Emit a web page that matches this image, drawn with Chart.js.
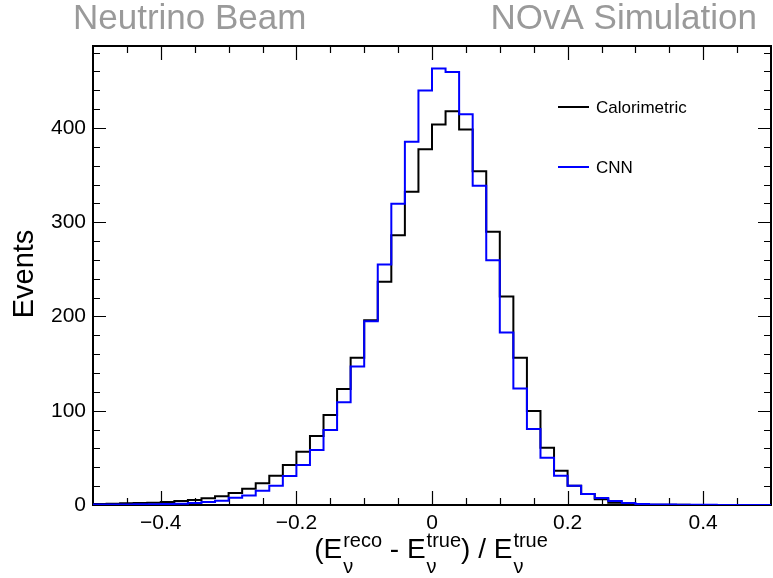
<!DOCTYPE html>
<html><head><meta charset="utf-8">
<script src="https://cdn.jsdelivr.net/npm/chart.js@4/dist/chart.umd.min.js"></script>
<style>html,body{margin:0;padding:0;background:#fff}#wrap{width:773px;height:578px}</style>
</head><body><div id="wrap"><canvas id="c" width="773" height="578"></canvas></div>
<script>
// Histogram binning: 50 bins of width 0.02 from -0.5 to 0.5
const binLow = -0.5;
const binWidth = 0.02;
const seriesNames = ['Calorimetric', 'CNN'];
const seriesColors = ['#000000', '#0000ff'];
const calorimetric = [1.1,1.4,1.8,2.1,2.5,3.2,4.2,5.3,7.1,9.2,12.7,17.3,23.0,31.1,42.4,56.5,73.2,95.4,123.0,156.2,
  196.0,236.8,286.3,332.3,377.5,403.7,417.8,398.4,354.2,289.8,221.3,156.2,99.7,60.8,36.4,20.5,11.7,6.0,2.5,1.0,
  0.5,0.3,0.2,0.2,0.1,0.1,0.1,0.1,0.1,0.1];
const cnn = [0.4,0.5,0.6,0.7,0.8,1.0,1.4,2.1,3.2,4.6,7.8,10.2,15.2,20.5,30.7,42.4,58.3,79.5,108.9,147.0,
  195.0,255.2,319.5,385.3,439.8,463.0,459.5,414.6,338.6,259.8,183.1,123.7,80.6,50.2,31.1,20.5,11.7,7.4,4.2,2.1,
  1.0,0.6,0.4,0.3,0.2,0.2,0.1,0.1,0.1,0.1];
const xTickValues = [-0.4, -0.2, 0, 0.2, 0.4];
const yTickValues = [0, 100, 200, 300, 400];
const xRange = [-0.5, 0.5];
const yRange = [0, 487];
const leftText = 'Neutrino Beam';
const rightText = 'NOvA Simulation';
const yTitle = 'Events';

function histPoints(vals) {
  const pts = vals.map((v, i) => ({x: binLow + i * binWidth, y: v}));
  pts.push({x: binLow + vals.length * binWidth, y: vals[vals.length - 1]});
  return pts;
}
function fmt(v) {
  const s = Math.abs(v) < 1e-9 ? '0' : String(Math.abs(v));
  return v < -1e-9 ? '\u2212' + s : s;
}

const FONT = '"Liberation Sans", Arial, Helvetica, sans-serif';

const frame = {
  id: 'frame',
  beforeDatasetsDraw(chart) {
    const ctx = chart.ctx;
    const a = chart.chartArea;
    const xs = chart.scales.x, ys = chart.scales.y;
    ctx.save();
    ctx.strokeStyle = '#000';
    ctx.lineWidth = 2;
    ctx.strokeRect(a.left, a.top, a.right - a.left, a.bottom - a.top);
    ctx.lineWidth = 1.2;
    ctx.beginPath();
    for (let i = 0; i <= 20; i++) {
      const v = xRange[0] + i * 0.05;
      const major = xTickValues.some(t => Math.abs(t - v) < 1e-6);
      const len = major ? 14 : 7;
      const px = Math.round(xs.getPixelForValue(v)) + 0.5;
      if (px <= a.left + 1 || px >= a.right - 1) continue;
      ctx.moveTo(px, a.bottom); ctx.lineTo(px, a.bottom - len);
      ctx.moveTo(px, a.top); ctx.lineTo(px, a.top + len);
    }
    for (let v = 0; v <= yRange[1]; v += 20) {
      const major = v % 100 === 0;
      const len = major ? 13 : 7;
      const py = Math.round(ys.getPixelForValue(v)) + 0.5;
      if (py >= a.bottom - 1 || py <= a.top + 1) continue;
      ctx.moveTo(a.left, py); ctx.lineTo(a.left + len, py);
      ctx.moveTo(a.right, py); ctx.lineTo(a.right - len, py);
    }
    ctx.stroke();
    ctx.restore();
  }
};

const decor = {
  id: 'decor',
  afterDraw(chart) {
    const ctx = chart.ctx;
    ctx.save();
    // legend
    const legY = [107, 167];
    ctx.font = '17px ' + FONT;
    ctx.textBaseline = 'middle';
    ctx.textAlign = 'left';
    chart.data.datasets.forEach((ds, i) => {
      ctx.strokeStyle = ds.borderColor;
      ctx.lineWidth = 2;
      ctx.beginPath();
      ctx.moveTo(558, legY[i]); ctx.lineTo(589, legY[i]);
      ctx.stroke();
      ctx.fillStyle = '#000';
      ctx.fillText(ds.label, 596, legY[i] + 1);
    });

    // header texts
    ctx.fillStyle = '#9a9a9a';
    ctx.font = '35px ' + FONT;
    ctx.textBaseline = 'alphabetic';
    ctx.textAlign = 'left';
    ctx.fillText(leftText, 73, 29);
    ctx.textAlign = 'right';
    ctx.fillText(rightText, 757, 29);

    // y title
    ctx.fillStyle = '#000';
    ctx.save();
    ctx.translate(33, 274);
    ctx.rotate(-Math.PI / 2);
    ctx.textAlign = 'center';
    ctx.font = '29px ' + FONT;
    ctx.fillText(yTitle, 0, 0);
    ctx.restore();

    // x title: (E_nu^reco - E_nu^true) / E_nu^true
    const mainF = '28px ' + FONT, smallF = '20px ' + FONT;
    const segs = [
      {t: '(E', f: mainF},
      {sup: 'reco', sub: '\u03bd'},
      {t: ' - E', f: mainF},
      {sup: 'true', sub: '\u03bd'},
      {t: ') / E', f: mainF},
      {sup: 'true', sub: '\u03bd'}
    ];
    const widths = segs.map(s => {
      if (s.t) { ctx.font = s.f; return ctx.measureText(s.t).width; }
      ctx.font = smallF;
      return Math.max(ctx.measureText(s.sup).width, ctx.measureText(s.sub).width) + 1;
    });
    const total = widths.reduce((p, c) => p + c, 0);
    let x = 431 - total / 2;
    const base = 558;
    ctx.textAlign = 'left';
    segs.forEach((s, i) => {
      if (s.t) { ctx.font = s.f; ctx.fillText(s.t, x, base); }
      else {
        ctx.font = smallF;
        ctx.fillText(s.sup, x + 1, base - 11);
        ctx.fillText(s.sub, x + 1, base + 15);
      }
      x += widths[i];
    });
    ctx.restore();
  }
};

new Chart(document.getElementById('c'), {
  type: 'line',
  data: {
    datasets: [
      {label: seriesNames[0], data: histPoints(calorimetric), borderColor: seriesColors[0], borderWidth: 2,
       stepped: 'before', pointRadius: 0, fill: false, order: 2},
      {label: seriesNames[1], data: histPoints(cnn), borderColor: seriesColors[1], borderWidth: 2,
       stepped: 'before', pointRadius: 0, fill: false, order: 1}
    ]
  },
  options: {
    responsive: false,
    animation: false,
    devicePixelRatio: 1,
    layout: {padding: {top: 46, right: 2, left: 0, bottom: 0}},
    plugins: {legend: {display: false}, tooltip: {enabled: false}},
    scales: {
      x: {
        type: 'linear', min: xRange[0], max: xRange[1],
        grid: {display: false, drawTicks: false}, border: {display: false},
        ticks: {font: {size: 21, family: FONT}, color: '#000', padding: 6, maxRotation: 0, autoSkip: false,
          callback: v => fmt(v)},
        afterBuildTicks: s => { s.ticks = xTickValues.map(v => ({value: v})); },
        afterFit: s => { s.height = 73; }
      },
      y: {
        type: 'linear', min: yRange[0], max: yRange[1],
        grid: {display: false, drawTicks: false}, border: {display: false},
        ticks: {font: {size: 21, family: FONT}, color: '#000', padding: 7, autoSkip: false,
          callback: v => fmt(v)},
        afterBuildTicks: s => { s.ticks = yTickValues.map(v => ({value: v})); },
        afterFit: s => { s.width = 93; }
      }
    }
  },
  plugins: [frame, decor]
});
</script></body></html>
